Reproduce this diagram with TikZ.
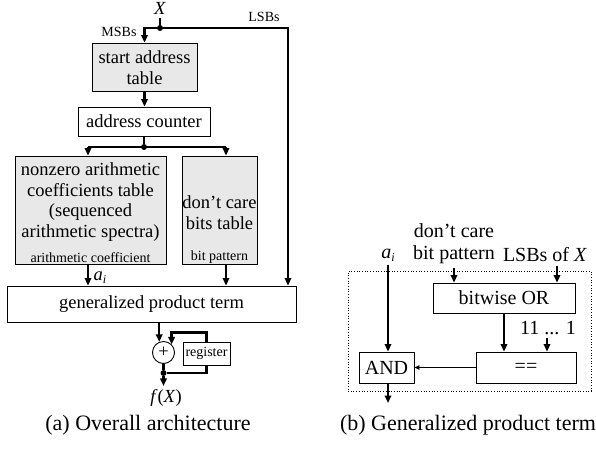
\documentclass[tikz,border=0pt]{standalone}
\usepackage{fontspec}
\setmainfont{Liberation Serif}
\usetikzlibrary{arrows.meta,calc}
\newcommand{\myai}{\textit{a}\raisebox{-0.35ex}{\fontsize{12}{12}\selectfont\textit{i}}}
\begin{document}
\begin{tikzpicture}[x=1pt,y=-1pt,
 box/.style={draw, line width=0.9pt, inner sep=0pt, align=center},
 shaded/.style={box, fill=black!9},
 thk/.style={line width=2.2pt},
 arr/.style={thk, -{Triangle[length=7.5pt,width=6.5pt]}},
 thinarr/.style={line width=0.9pt, -{Triangle[length=5pt,width=4.5pt]}},
 dotn/.style={circle, fill, inner sep=0pt, minimum size=6pt},
 L/.style={font=\fontsize{18.5}{20.7}\selectfont},
 S/.style={font=\fontsize{14}{16}\selectfont},
 R/.style={font=\fontsize{20}{22}\selectfont},
 C/.style={font=\fontsize{22}{24}\selectfont}]
\useasboundingbox (0,0) rectangle (596,450);

% ---------- (a) ----------
\node[L] (X) at (160,8) {\textit{X}};
\node[dotn] (d1) at (160,28) {};
\node[S] (msb) at (119,32) {MSBs};
\node[S] (lsb) at (264,17) {LSBs};
\coordinate (lsbx) at (288,28);
\node[shaded, minimum width=105pt, minimum height=48pt] (sat) at (144.5,67) {};
\node[L, align=center] (sattxt) at (144.5,68) {start address\\table};
\node[box, L, minimum width=132pt, minimum height=29pt] (ac) at (144,121.5) {address counter};
\node[dotn] (d2) at (144,147) {};
\coordinate (bl) at (88,147);
\coordinate (br) at (226,147);
\node[shaded, minimum width=151pt, minimum height=108pt] (nz) at (90.5,210) {};
\node[L, align=center] (nztxt) at (90.5,202) {nonzero arithmetic\\coefficients table\\(sequenced\\arithmetic spectra)};
\node[S] (nzsub) at (90.5,257.5) {arithmetic coefficient};
\node[shaded, minimum width=75pt, minimum height=108pt] (dc) at (219.5,210) {};
\node[L, align=center] (dctxt) at (219.5,212.5) {don't care\\bits table};
\node[S] (dcsub) at (219.5,257.5) {bit pattern};
\node[box, L, minimum width=289pt, minimum height=36pt] (gp) at (151.5,304) {generalized product term};
\node[box, circle, L, minimum size=22pt] (plus) at (163.5,352.5) {+};
\node[box, S, minimum width=47pt, minimum height=23pt] (reg) at (206.5,353.5) {register};
\node[dotn] (d3) at (163.5,373) {};
\node[L] (fx) at (166,398) {\textit{f}(\textit{X})};
\node[L] (ail) at (100,277.5) {\myai};

\draw[thk] (X) -- (d1);
\draw[arr] (d1) -| (sat.north);
\draw[arr] (d1) -- (lsbx) -- (lsbx |- gp.north);
\draw[arr] (sat.south) -- (sat.south |- ac.north);
\draw[thk] (ac.south) -- (d2);
\draw[thk] (bl) -- (br);
\draw[arr] (bl) -- (bl |- nz.north);
\draw[arr] (br) -- (br |- dc.north);
\draw[arr] (bl |- nz.south) -- (bl |- gp.north);
\draw[arr] (br |- dc.south) -- (br |- gp.north);
\draw[arr] (gp.south -| plus.112) -- (plus.112);
\draw[thk] (plus.south) -- (d3);
\draw[thk] (d3) -| (reg.south);
\draw[arr] (reg.north) -- ++(0,-9) -| (plus.45);
\draw[arr] (d3) -- (d3 |- fx.north);

\node[C] (capa) at (148,425) {(a) Overall architecture};

% ---------- (b) ----------
\node[draw, dotted, line width=0.7pt, minimum width=243pt, minimum height=120pt, inner sep=0pt] (frame) at (469.5,331) {};
\node[R] (ai) at (388,255) {\myai};
\node[R, align=center] (dcl) at (454,244) {don't care\\bit pattern};
\node[R] (lsbl) at (545,255) {LSBs of \textit{X}};
\node[box, R, minimum width=142pt, minimum height=30pt] (or) at (504,298) {bitwise OR};
\node[box, R, minimum width=55pt, minimum height=31pt] (and) at (386.5,367.5) {AND};
\node[box, R, minimum width=100pt, minimum height=31pt] (eq) at (526,367.5) {==};
\node[R] (ones) at (548,328) {11 ... 1};
\coordinate (lsx) at (557,0);
\coordinate (onx) at (547,0);
\coordinate (outb) at (388,403);

\draw[arr] (ai.south) -- (ai.south |- and.north);
\draw[arr] (dcl.south) -- (dcl.south |- or.north);
\draw[arr] (lsbl.south -| lsx) -- (lsx |- or.north);
\draw[arr] (or.south) -- (or.south |- eq.north);
\draw[arr] (ones.south -| onx) -- (onx |- eq.north);
\draw[thinarr] (eq.west) -- (and.east);
\draw[arr] (outb |- and.south) -- (outb);

\node[C] (capb) at (468,425) {(b) Generalized product term};
\end{tikzpicture}
\end{document}
